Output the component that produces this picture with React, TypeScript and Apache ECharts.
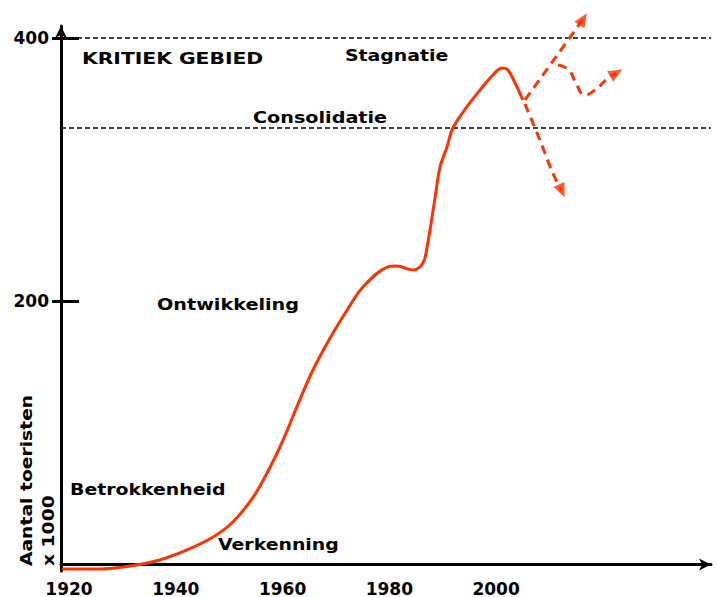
import React, { useEffect, useRef } from "react";
import * as echarts from "echarts";

// Main curve (year, tourists x 1000)
const curveYears = [1918.7, 1925.8, 1931.4, 1937.0, 1942.1, 1947.0, 1950.7, 1954.5, 1957.1, 1960.1, 1962.9, 1965.7, 1968.9, 1972.1, 1974.9, 1979.6, 1981.4, 1984.4, 1986.3, 1987.2, 1988.5, 1989.5, 1990.8, 1991.9, 1994.5, 1997.0, 1999.4, 2001.1, 2002.2, 2003.9, 2005.0];
const curveValues = [-3.5, -3.5, -1.2, 3.4, 11, 20.8, 32.2, 51.2, 69.4, 94.5, 122, 147.7, 172, 193.3, 210, 225.9, 226.7, 223.6, 229, 244.2, 276.8, 301.9, 317.1, 331.5, 347.5, 360.4, 371.8, 377.1, 375.6, 362.7, 352.8];

// Scenario arrows (dashed)
const upYears = [2005.4, 2016.3];
const upValues = [352.8, 414.3];
const sideYears = [2011.6, 2013.6, 2015.1, 2016.6, 2018.5, 2021.0, 2022.5];
const sideValues = [379.4, 375.6, 364.2, 356.6, 360.4, 369.5, 373.3];
const downYears = [2005.4, 2008.2, 2010.6, 2012.3];
const downValues = [349.8, 322.4, 297.3, 283.7];
const headYears = [2016.3, 2022.5, 2012.3];
const headValues = [414.3, 373.3, 283.7];
const headAngles = [-33, -60, -156];

// Reference levels
const levelValues = [400, 332];
const yTickValues = [200, 400];
const xTickValues = [1920, 1940, 1960, 1980, 2000];

// Phase labels
const phaseLabels = ["KRITIEK GEBIED", "Stagnatie", "Consolidatie", "Ontwikkeling", "Betrokkenheid", "Verkenning"];
const yTitle = "Aantal toeristen\nx 1000";

const RED = "#ff3300";
const FONT = "DejaVu Sans";

export default function App() {
  const ref = useRef<HTMLDivElement>(null);
  useEffect(() => {
    document.body.style.margin = "0";
    const chart = echarts.init(ref.current!, null, { renderer: "svg" });
    const zip = (xs: number[], ys: number[]) => xs.map((x, i) => [x, ys[i]]);
    const textPos = [
      [82, 58],
      [345, 56],
      [253, 118],
      [157, 305],
      [70, 490],
      [218, 545],
    ];
    const textScale = [1.27, 1.18, 1.2, 1.2, 1.18, 1.18];
    const txtStyle = (t: string) => ({
      text: t,
      fontFamily: FONT,
      fontWeight: "bold",
      fontSize: 16,
      fill: "#000",
      align: "left",
      verticalAlign: "middle",
    });
    const dashed = { color: RED, width: 3, type: [9, 6] };
    chart.setOption({
      animation: false,
      backgroundColor: "#fff",
      grid: { left: 61, right: 6, top: 26, bottom: 26 },
      xAxis: {
        type: "value",
        min: 1918.5,
        max: 2040.25,
        splitLine: { show: false },
        axisLine: {
          lineStyle: { color: "#000", width: 3 },
          symbol: ["none", "arrow"],
          symbolSize: [9, 12],
        },
        axisTick: { show: false },
        axisLabel: {
          customValues: xTickValues,
          formatter: (v: number) => String(v),
          color: "#000",
          fontFamily: FONT,
          fontWeight: "bold",
          fontSize: 17,
          margin: 9,
        },
      },
      yAxis: [
        {
          type: "value",
          min: -5,
          max: 409,
          splitLine: { show: false },
          axisLine: {
            show: true,
            lineStyle: { color: "#000", width: 3 },
            symbol: ["none", "arrow"],
            symbolSize: [9, 12],
          },
          axisTick: {
            show: true,
            customValues: yTickValues,
            length: 9,
            lineStyle: { color: "#000", width: 3 },
          },
          axisLabel: {
            customValues: yTickValues,
            formatter: (v: number) => String(v),
            color: "#000",
            fontFamily: FONT,
            fontWeight: "bold",
            fontSize: 17,
            margin: 12,
          },
        },
        {
          type: "value",
          min: -5,
          max: 409,
          position: "left",
          splitLine: { show: false },
          axisLine: { show: false },
          axisTick: {
            show: true,
            inside: true,
            customValues: yTickValues,
            length: 18,
            lineStyle: { color: "#000", width: 3 },
          },
          axisLabel: { show: false },
        },
      ],
      series: [
        {
          type: "line",
          data: zip(curveYears, curveValues),
          smooth: 0.35,
          showSymbol: false,
          clip: false,
          lineStyle: { color: RED, width: 3 },
          z: 5,
          markLine: {
            silent: true,
            symbol: "none",
            label: { show: false },
            lineStyle: { color: "#000", type: [5, 3], width: 1.5 },
            data: levelValues.map((v) => ({ yAxis: v })),
            z: 1,
          },
        },
        {
          type: "line",
          data: zip(upYears, upValues),
          showSymbol: false,
          clip: false,
          lineStyle: dashed,
          z: 5,
        },
        {
          type: "line",
          data: zip(sideYears, sideValues),
          smooth: 0.5,
          showSymbol: false,
          clip: false,
          lineStyle: dashed,
          z: 5,
        },
        {
          type: "line",
          data: zip(downYears, downValues),
          smooth: 0.3,
          showSymbol: false,
          clip: false,
          lineStyle: dashed,
          z: 5,
        },
        {
          type: "scatter",
          clip: false,
          data: headYears.map((x, i) => ({
            value: [x, headValues[i]],
            symbolRotate: headAngles[i],
          })),
          symbol: "triangle",
          symbolSize: [12, 14],
          itemStyle: { color: RED },
          z: 6,
        },
      ],
      graphic: [
        ...phaseLabels.map((t, i) => ({
          type: "text",
          x: textPos[i][0],
          y: textPos[i][1],
          scaleX: textScale[i],
          style: txtStyle(t),
          z: 10,
        })),
        {
          type: "text",
          x: 15,
          y: 566,
          rotation: Math.PI / 2,
          scaleX: 1.17,
          style: {
            text: yTitle,
            fontFamily: FONT,
            fontWeight: "bold",
            fontSize: 16,
            lineHeight: 22,
            fill: "#000",
            align: "left",
            verticalAlign: "top",
          },
          z: 10,
        },
      ],
    });
    return () => chart.dispose();
  }, []);
  return (
    <div
      ref={ref}
      style={{ position: "fixed", left: 0, top: 0, width: 717, height: 597, background: "#fff" }}
    />
  );
}
